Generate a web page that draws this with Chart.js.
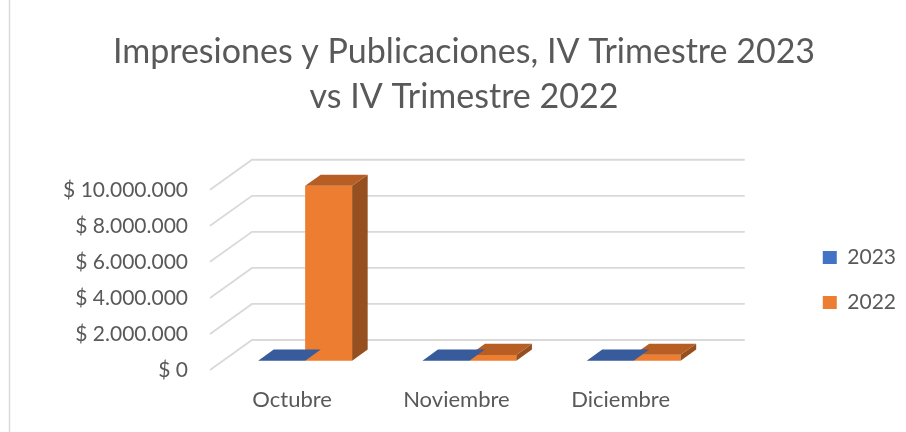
<!DOCTYPE html>
<html lang="es">
<head>
<meta charset="utf-8">
<title>Impresiones y Publicaciones</title>
<script src="https://cdn.jsdelivr.net/npm/chart.js@4.4.0/dist/chart.umd.min.js"></script>
<style>
  html, body { margin: 0; padding: 0; background: #fff; }
  #chart { display: block; }
</style>
</head>
<body>
<canvas id="chart" width="906" height="432"></canvas>
<script>
// Montos por mes, en pesos
const meses = ['Octubre', 'Noviembre', 'Diciembre'];
const series = ['2023', '2022'];
const valores2023 = [0, 0, 0];
const valores2022 = [9700000, 320000, 330000];
const ticksY = [0, 2000000, 4000000, 6000000, 8000000, 10000000];

const gris = '#595959';
const fuente = 'Lato, "Noto Sans", sans-serif';

// colores por serie: cara frontal, tapa y costado
const caras = [
  { frente: '#4472C4', tapa: '#375B9B', lado: '#2E4D85' },
  { frente: '#ED7D31', tapa: '#B65E24', lado: '#964F1E' }
];

// desplazamiento oblicuo de la pared del fondo y de las barras (en px)
const PARED = { dx: 42, dy: 30 };
const BARRA_FRENTE = 0.31;   // fracción de la profundidad donde empieza la barra
const BARRA_FONDO = 0.37;    // profundidad de la barra

function pesos(v) {
  return '$ ' + String(v).replace(/\B(?=(\d{3})+(?!\d))/g, '.');
}

const cubo = {
  id: 'cubo',
  beforeDraw(chart) {
    const ctx = chart.ctx;
    ctx.save();
    ctx.strokeStyle = '#D9D9D9';
    ctx.lineWidth = 1.5;
    ctx.beginPath();
    ctx.moveTo(9.5, 0);
    ctx.lineTo(9.5, chart.height);
    ctx.stroke();
    ctx.restore();
  },
  // pared lateral y pared del fondo con las líneas de división
  beforeDatasetsDraw(chart) {
    const { ctx, chartArea: a, scales: { y } } = chart;
    ctx.save();
    ctx.strokeStyle = '#D9D9D9';
    ctx.lineWidth = 1.8;
    ticksY.forEach(v => {
      const py = y.getPixelForValue(v);
      ctx.beginPath();
      ctx.moveTo(a.left, py);
      ctx.lineTo(a.left + PARED.dx, py - PARED.dy);
      ctx.lineTo(a.right + PARED.dx, py - PARED.dy);
      ctx.stroke();
    });
    ctx.restore();
  },
  beforeDatasetDraw(chart) {
    chart.ctx.save();
    chart.ctx.translate(PARED.dx * BARRA_FRENTE, -PARED.dy * BARRA_FRENTE);
  },
  // tapa y costado de cada barra
  afterDatasetDraw(chart, args) {
    const ctx = chart.ctx;
    const c = caras[args.index];
    const ddx = PARED.dx * BARRA_FONDO, ddy = PARED.dy * BARRA_FONDO;
    args.meta.data.forEach(bar => {
      const { x, y, base, width } = bar.getProps(['x', 'y', 'base', 'width'], true);
      const l = x - width / 2, r = x + width / 2;
      ctx.fillStyle = c.lado;
      ctx.beginPath();
      ctx.moveTo(r, y);
      ctx.lineTo(r + ddx, y - ddy);
      ctx.lineTo(r + ddx, base - ddy);
      ctx.lineTo(r, base);
      ctx.closePath();
      ctx.fill();
      ctx.fillStyle = c.tapa;
      ctx.beginPath();
      ctx.moveTo(l, y);
      ctx.lineTo(r, y);
      ctx.lineTo(r + ddx, y - ddy);
      ctx.lineTo(l + ddx, y - ddy);
      ctx.closePath();
      ctx.fill();
    });
    ctx.restore();
  }
};

new Chart(document.getElementById('chart'), {
  type: 'bar',
  data: {
    labels: meses,
    datasets: [
      { label: series[0], data: valores2023, backgroundColor: caras[0].frente, clip: false },
      { label: series[1], data: valores2022, backgroundColor: caras[1].frente, clip: false }
    ]
  },
  options: {
    responsive: false,
    animation: false,
    events: [],
    layout: { padding: { left: 22, right: 0, top: 0, bottom: 19 } },
    datasets: { bar: { categoryPercentage: 0.572, barPercentage: 1 } },
    plugins: {
      title: {
        display: true,
        text: ['Impresiones y Publicaciones, IV Trimestre 2023', 'vs IV Trimestre 2022'],
        color: gris,
        font: { family: fuente, size: 34, weight: 'normal', lineHeight: 1.32 },
        padding: { top: 29.5, bottom: 70.5 }
      },
      legend: {
        position: 'right',
        fullSize: false,
        labels: { boxWidth: 14, boxHeight: 13, padding: 24, color: gris, font: { family: fuente, size: 21 } }
      },
      tooltip: { enabled: false }
    },
    scales: {
      x: {
        grid: { display: false, drawTicks: false },
        border: { display: false },
        ticks: { color: gris, font: { family: fuente, size: 22 }, padding: 17 },
        afterFit(s) { s.height = 43; }
      },
      y: {
        min: 0,
        max: 10000000,
        grid: { display: false, drawTicks: false },
        border: { display: false },
        ticks: { stepSize: 2000000, callback: pesos, color: gris, font: { family: fuente, size: 21 }, padding: 22 },
        afterFit(s) { s.width = 188; }
      },
      // espacio entre la pared del fondo y la leyenda
      hueco: {
        type: 'linear',
        position: 'right',
        grid: { display: false, drawTicks: false },
        border: { display: false },
        ticks: { display: false },
        afterFit(s) { s.width = 96; }
      }
    }
  },
  plugins: [cubo]
});
</script>
</body>
</html>
